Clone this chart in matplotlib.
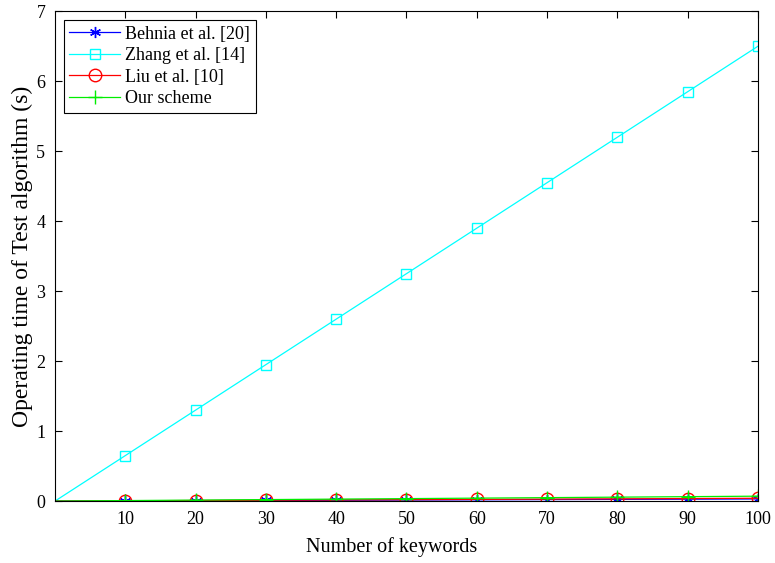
import numpy as np
import matplotlib.pyplot as plt

plt.rcParams['font.family'] = ['Liberation Serif', 'DejaVu Serif']

keywords = [0, 10, 20, 30, 40, 50, 60, 70, 80, 90, 100]
behnia = [0, 0.003, 0.006, 0.009, 0.012, 0.015, 0.018, 0.021, 0.024, 0.027, 0.030]
zhang = [0, 0.65, 1.30, 1.95, 2.60, 3.25, 3.90, 4.55, 5.20, 5.85, 6.50]
liu = [0, 0.004, 0.008, 0.012, 0.016, 0.020, 0.024, 0.028, 0.032, 0.036, 0.040]
ours = [0, 0.007, 0.014, 0.021, 0.028, 0.035, 0.042, 0.049, 0.056, 0.063, 0.070]

fig = plt.figure(figsize=(7.75, 5.63), dpi=100)
ax = fig.add_axes([0.071, 0.110, 0.907, 0.870])

# markers only at x=10..100, the lines start at the origin
mk = list(range(1, len(keywords)))

ax.plot(keywords, behnia, color='blue', lw=0.9, marker=(6, 2, 0), ms=8, markevery=mk, label='Behnia et al. [20]')
ax.plot(keywords, zhang, color='cyan', lw=0.9, marker='s', ms=7, mfc='none', markevery=mk, label='Zhang et al. [14]')
ax.plot(keywords, liu, color='red', lw=0.9, marker='o', ms=9, mfc='none', markevery=mk, label='Liu et al. [10]')
ax.plot(keywords, ours, color='#00ee00', lw=0.9, marker='+', ms=10, markevery=mk, label='Our scheme')

ax.set_xlim(0, 100)
ax.set_ylim(0, 7)
ax.set_xticks([10, 20, 30, 40, 50, 60, 70, 80, 90, 100])
ax.set_yticks(range(0, 8))
ax.tick_params(direction='in', top=True, right=True, labelsize=13, length=5, pad=7)
for s in ax.spines.values():
    s.set_linewidth(0.8)

ax.set_xlabel('Number of keywords', fontsize=14.5)
ax.xaxis.set_label_coords(0.479, -0.073)
ax.set_ylabel('Operating time of Test algorithm (s)', fontsize=17, labelpad=2)

leg = ax.legend(loc='upper left', fontsize=13, fancybox=False, edgecolor='black',
                framealpha=1, handlelength=2.8, borderaxespad=0.5, labelspacing=0.25,
                borderpad=0.3, handletextpad=0.3)
leg.get_frame().set_linewidth(0.8)

plt.savefig('out.png')
